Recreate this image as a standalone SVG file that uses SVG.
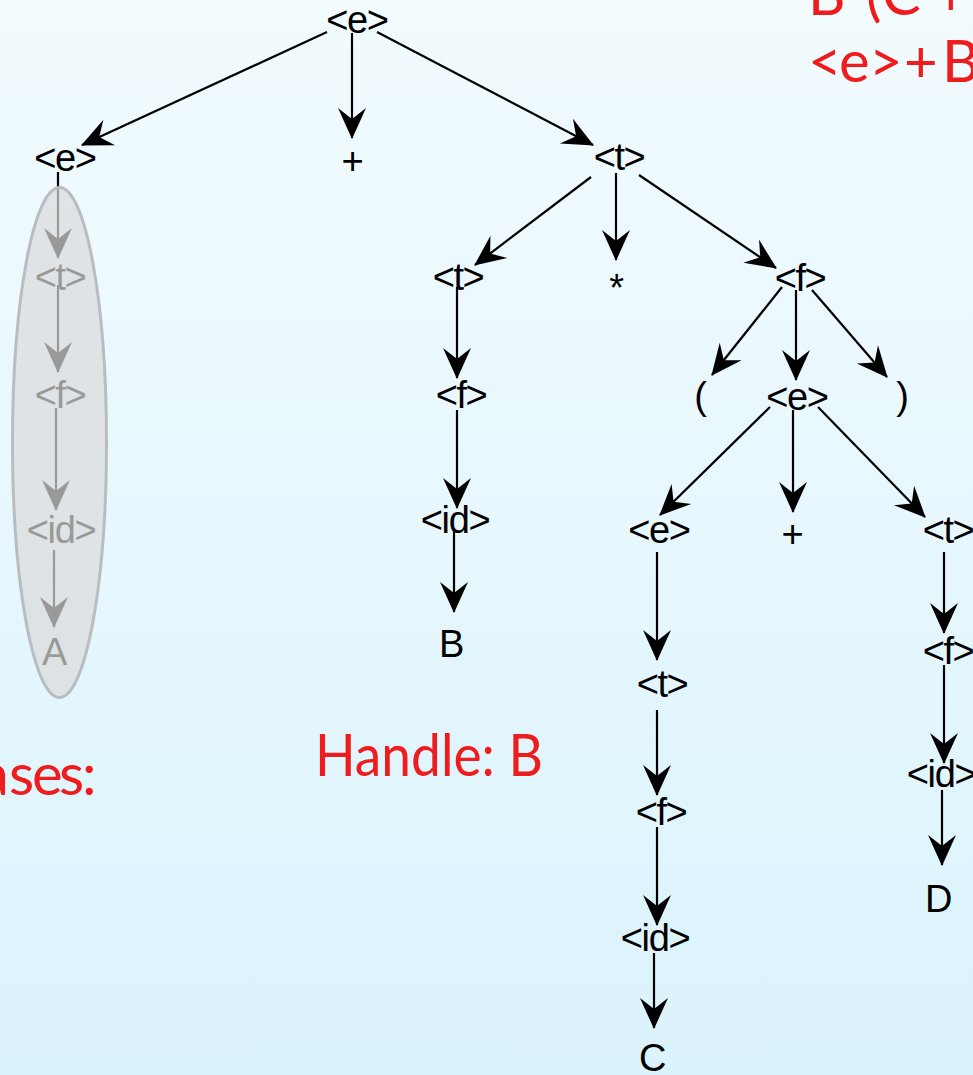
<svg xmlns="http://www.w3.org/2000/svg" width="973" height="1075" viewBox="0 0 973 1075">
<defs>
<linearGradient id="bg" x1="0" y1="0" x2="0" y2="1">
<stop offset="0" stop-color="#f2fbfe"/>
<stop offset="1" stop-color="#dbf3fc"/>
</linearGradient>
<marker id="ah" markerUnits="userSpaceOnUse" markerWidth="32" markerHeight="29" refX="30" refY="14" orient="auto" overflow="visible">
<path d="M31,14 L0,0 L11,14 L0,28 Z" fill="#000"/>
</marker>
</defs>
<style>
.n{font-family:"Liberation Sans",Arial,sans-serif;font-size:38px;letter-spacing:-1.4px;fill:#000;text-anchor:middle}
.r{font-family:Lato,"Open Sans",sans-serif;font-size:58px;fill:#ee1c1c}
.c line{stroke:#000;stroke-width:2.2;marker-end:url(#ah)}
</style>
<rect width="973" height="1075" fill="url(#bg)"/>
<g id="connectors" class="c">
<line x1="327" y1="32" x2="82" y2="145"/>
<line x1="352" y1="33" x2="352" y2="138"/>
<line x1="377" y1="32" x2="593" y2="145"/>
<line x1="591" y1="177" x2="475" y2="265"/>
<line x1="616" y1="173" x2="616" y2="260"/>
<line x1="639" y1="175" x2="776" y2="268"/>
<line x1="457" y1="287" x2="457" y2="378"/>
<line x1="457" y1="410" x2="457" y2="508"/>
<line x1="454" y1="532" x2="454" y2="612"/>
<line x1="782" y1="287" x2="712" y2="375"/>
<line x1="796" y1="290" x2="796" y2="380"/>
<line x1="812" y1="290" x2="887" y2="377"/>
<line x1="770" y1="407" x2="660" y2="515"/>
<line x1="793" y1="410" x2="793" y2="512"/>
<line x1="818" y1="407" x2="925" y2="517"/>
<line x1="657" y1="552" x2="657" y2="660"/>
<line x1="657" y1="710" x2="657" y2="795"/>
<line x1="657" y1="827" x2="657" y2="925"/>
<line x1="654" y1="953" x2="654" y2="1028"/>
<line x1="944" y1="552" x2="944" y2="633"/>
<line x1="944" y1="665" x2="944" y2="763"/>
<line x1="942" y1="790" x2="942" y2="865"/>
<line x1="58" y1="172" x2="58" y2="258"/>
<line x1="58" y1="285" x2="58" y2="372"/>
<line x1="56" y1="408" x2="56" y2="510"/>
<line x1="54" y1="550" x2="54" y2="627"/>
</g>
<g id="n_root"><text class="n" x="357" y="33">&lt;e&gt;</text></g>
<g id="n_e1"><text class="n" x="65" y="171">&lt;e&gt;</text></g>
<g id="n_plus1"><text class="n" x="352" y="174">+</text></g>
<g id="n_t1"><text class="n" x="619" y="170">&lt;t&gt;</text></g>
<g id="n_t2"><text class="n" x="458" y="290">&lt;t&gt;</text></g>
<g id="n_star"><text class="n" x="616" y="301">*</text></g>
<g id="n_f1"><text class="n" x="800" y="291">&lt;f&gt;</text></g>
<g id="n_f2"><text class="n" x="461" y="408">&lt;f&gt;</text></g>
<g id="n_lp"><text class="n" x="700" y="409">(</text></g>
<g id="n_e2"><text class="n" x="797" y="410">&lt;e&gt;</text></g>
<g id="n_rp"><text class="n" x="902" y="409">)</text></g>
<g id="n_id1"><text class="n" x="455" y="533">&lt;id&gt;</text></g>
<g id="n_B"><text class="n" x="451" y="657">B</text></g>
<g id="n_e3"><text class="n" x="659" y="543">&lt;e&gt;</text></g>
<g id="n_plus2"><text class="n" x="792" y="547">+</text></g>
<g id="n_t3"><text class="n" x="948" y="543">&lt;t&gt;</text></g>
<g id="n_t4"><text class="n" x="662" y="697">&lt;t&gt;</text></g>
<g id="n_f3"><text class="n" x="661" y="825">&lt;f&gt;</text></g>
<g id="n_id2"><text class="n" x="655" y="951">&lt;id&gt;</text></g>
<g id="n_C"><text class="n" x="652" y="1071">C</text></g>
<g id="n_f4"><text class="n" x="948" y="664">&lt;f&gt;</text></g>
<g id="n_id3"><text class="n" x="941" y="787">&lt;id&gt;</text></g>
<g id="n_D"><text class="n" x="938" y="912">D</text></g>
<g id="n_t5"><text class="n" x="60" y="290">&lt;t&gt;</text></g>
<g id="n_f5"><text class="n" x="60" y="408">&lt;f&gt;</text></g>
<g id="n_id4"><text class="n" x="61" y="543">&lt;id&gt;</text></g>
<g id="n_A"><text class="n" x="54" y="665">A</text></g>
<g id="phrase_highlight">
<ellipse cx="59.5" cy="442.5" rx="47" ry="255" fill="#dadada" fill-opacity="0.7" stroke="#b9bdc1" stroke-width="3"/>
</g>
<g id="labels">
<text class="r" x="808 845 866 882 934 970" y="15">B*(C+D)</text>
<text class="r" x="808 839 869 904 942" y="82">&lt;e&gt;+B*(C+D)</text>
<text class="r" x="-105 -70 -38 -20 9 32 59 82" y="795">Phrases:</text>
<text class="r" x="315" y="776" textLength="228" lengthAdjust="spacingAndGlyphs">Handle: B</text>
</g>
</svg>
